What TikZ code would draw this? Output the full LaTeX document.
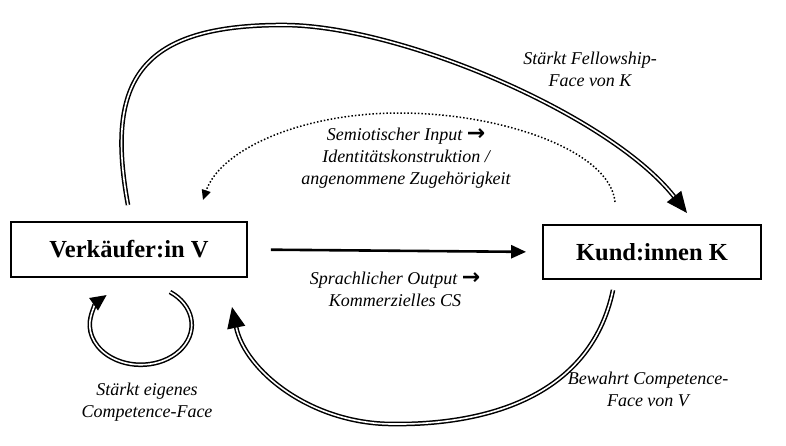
\documentclass[tikz,border=0pt]{standalone}
\usepackage{fontspec}
\setmainfont{Liberation Serif}[
  UprightFont=* ,
  BoldFont=* Bold,
  ItalicFont=* Italic,
  BoldItalicFont=* Bold Italic]
\newfontfamily\arrowfont{DejaVu Sans}
\newcommand{\rarr}{{\arrowfont\bfseries\upshape\fontsize{22}{22}\selectfont →}}
\usetikzlibrary{arrows.meta}
\begin{document}
\begin{tikzpicture}[x=1pt,y=-1pt,
  box/.style={draw,line width=1.8pt,inner sep=0pt,font=\fontsize{24.5}{28}\selectfont\bfseries},
  lbl/.style={align=center,font=\fontsize{18}{22}\selectfont\itshape},
  dbl/.style={draw,line width=1.5pt,double=white,double distance=1.6pt},
  bigtip/.style={-{Triangle[length=21pt,width=18pt]}},
  dottip/.style={-{Triangle[length=10pt,width=9pt]}}]
\useasboundingbox (0,0) rectangle (786,445);
\node[box,minimum width=236pt,minimum height=55pt] (V) at (129,249.5) {Verkäufer:in V};
\node[box,minimum width=218pt,minimum height=54pt] (K) at (652,252) {Kund:innen K};
% straight arrow
\draw[line width=2.6pt,-{Triangle[length=15pt,width=13pt]},shorten <=23pt,shorten >=16pt] (V.east) -- (K.west);
% top double arc
\coordinate (ta) at (128,205);
\coordinate (tt) at (283,25);
\coordinate (tb) at (687,213);
\draw[dbl,bigtip] (ta) .. controls (105,80) and (140,25) .. (tt)
   .. controls (400,25) and (610,115) .. (tb);
% dotted arc
\coordinate (da) at (615,202);
\coordinate (dm) at (400,113);
\coordinate (db) at (203,200);
\draw[line width=1.5pt,dotted,dottip] (da) .. controls (610,150) and (500,113) .. (dm)
   .. controls (300,113) and (220,150) .. (db);
% bottom double arc
\coordinate (ba) at (613,290);
\coordinate (bm) at (393,424);
\coordinate (bb) at (232,307);
\draw[dbl,bigtip] (ba) .. controls (590,400) and (480,425) .. (bm)
   .. controls (310,424) and (245,370) .. (bb);
% self loop
\coordinate (la) at (170,292);
\draw[dbl,-{Triangle[length=16pt,width=15pt]}] (la) arc[start angle=55,end angle=-228,x radius=51,y radius=-40];
% labels
\node[lbl] (l1) at (590,69) {Stärkt Fellowship-\\Face von K};
\node[lbl] (l2) at (406,158) {Semiotischer Input \rarr\\Identitätskonstruktion /\\angenommene Zugehörigkeit};
\node[lbl] (l3) at (395,289) {Sprachlicher Output \rarr\\Kommerzielles CS};
\node[lbl] (l4) at (648,389) {Bewahrt Competence-\\Face von V};
\node[lbl] (l5) at (147,402) {Stärkt eigenes\\Competence-Face};
\end{tikzpicture}
\end{document}
